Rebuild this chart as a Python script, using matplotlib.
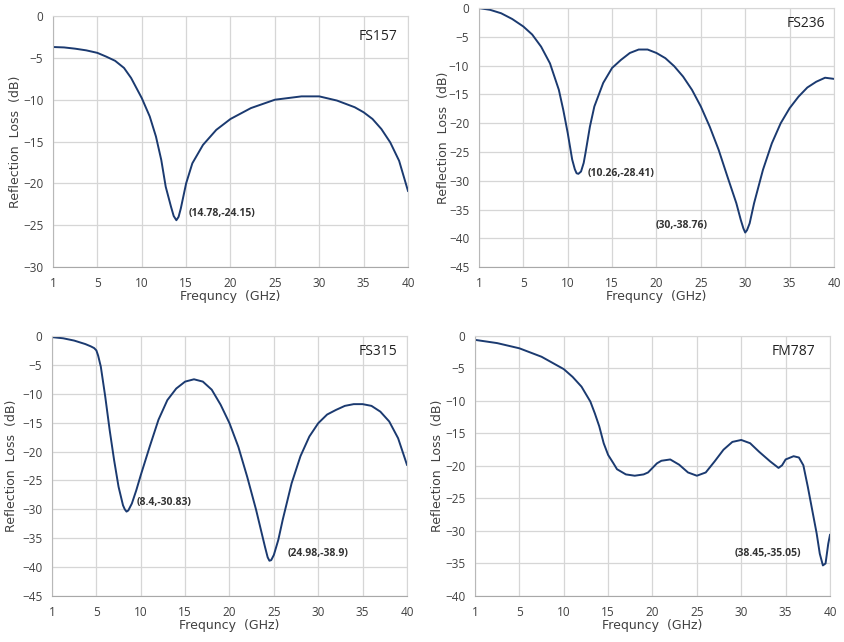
import numpy as np
import matplotlib
matplotlib.use("Agg")
import matplotlib.pyplot as plt

# frequency axis: 1..5 gets the same width as each 5 GHz step after it
freq_ticks = [1, 5, 10, 15, 20, 25, 30, 35, 40]

def fwd(f):
    f = np.asarray(f, dtype=float)
    return np.where(f < 5, (f - 1) / 4.0, 1 + (f - 5) / 5.0)

def inv(p):
    p = np.asarray(p, dtype=float)
    return np.where(p < 1, 1 + 4.0 * p, 5 + 5.0 * (p - 1))

# FS157
f157 = [1, 2, 3, 4, 5, 6, 7, 8, 8.8, 10, 10.9, 11.6, 12.2, 12.7, 13.3, 13.6, 13.9, 14.15,
        14.4, 15, 15.7, 16.9, 18.4, 20, 22.3, 25, 28, 30, 32, 34, 35, 36, 37, 38, 39, 40]
rl157 = [-3.7, -3.75, -3.9, -4.1, -4.4, -4.85, -5.35, -6.2, -7.4, -9.8, -12.0, -14.4, -17.2,
         -20.4, -22.8, -23.9, -24.4, -24.0, -23.0, -20.0, -17.6, -15.4, -13.6, -12.3, -11.0,
         -10.0, -9.6, -9.6, -10.1, -10.9, -11.5, -12.3, -13.5, -15.1, -17.3, -20.9]

# FS236
f236 = [1, 2, 3, 4, 5, 6, 7, 8, 9, 9.5, 10, 10.5, 10.8, 11, 11.2, 11.5, 11.8, 12, 12.5, 13,
        14, 15, 16, 17, 18, 19, 20, 21, 22, 23, 24, 25, 26, 27, 28, 29, 29.5, 29.8, 30, 30.2,
        30.5, 31, 32, 33, 34, 35, 36, 37, 38, 39, 40]
rl236 = [0.0, -0.3, -0.9, -1.9, -3.2, -4.6, -6.7, -9.6, -14.2, -17.7, -21.7, -26.3, -28.0,
         -28.7, -28.8, -28.4, -26.9, -25.2, -20.6, -17.1, -13.0, -10.4, -9.0, -7.8, -7.2, -7.2,
         -7.8, -8.7, -10.1, -11.9, -14.2, -17.1, -20.6, -24.6, -29.3, -33.9, -36.8, -38.3,
         -39.0, -38.6, -37.4, -33.9, -28.1, -23.5, -20.0, -17.4, -15.4, -13.8, -12.8, -12.1,
         -12.3]

# FS315
f315 = [1, 2, 3, 4, 4.5, 4.8, 5, 5.2, 5.5, 6, 6.5, 7, 7.5, 8, 8.2, 8.4, 8.6, 9, 9.5, 10, 11,
        12, 13, 14, 15, 16, 17, 18, 19, 20, 21, 22, 23, 24, 24.3, 24.5, 24.7, 25, 25.5, 26,
        27, 28, 29, 30, 31, 32, 33, 34, 35, 36, 37, 38, 39, 40]
rl315 = [-0.2, -0.4, -0.8, -1.4, -1.8, -2.1, -2.5, -3.4, -5.3, -10.5, -16.3, -21.5, -26.1,
         -29.3, -30.0, -30.4, -30.2, -29.0, -26.7, -24.1, -19.2, -14.5, -11.1, -9.1, -7.9,
         -7.5, -7.9, -9.3, -11.9, -15.1, -19.2, -24.4, -30.1, -36.5, -38.3, -38.9, -38.8,
         -37.9, -35.3, -31.8, -25.5, -20.8, -17.4, -15.1, -13.6, -12.8, -12.1, -11.8, -11.8,
         -12.1, -13.1, -14.8, -17.7, -22.3]

# FM787
f787 = [1, 3, 5, 7.5, 10, 11, 12, 13, 13.5, 14, 14.5, 15, 15.6, 16, 17, 18, 19, 19.5, 20,
        20.5, 21, 22, 23, 24, 25, 26, 27, 28, 29, 30, 31, 32, 33.26, 34.2, 34.6, 35, 35.9,
        36.5, 37, 37.5, 38, 38.5, 38.85, 39.2, 39.5, 39.8, 40]
rl787 = [-0.6, -1.1, -1.9, -3.2, -5.1, -6.3, -7.8, -10.1, -11.9, -13.9, -16.5, -18.3, -19.6,
         -20.5, -21.3, -21.5, -21.3, -21.0, -20.3, -19.6, -19.2, -19.0, -19.8, -21.0, -21.5,
         -21.0, -19.3, -17.5, -16.3, -16.0, -16.5, -17.8, -19.3, -20.3, -19.9, -19.0, -18.5,
         -18.7, -19.9, -23.2, -26.8, -30.4, -33.5, -35.3, -35.0, -32.0, -30.6]

panels = [
    dict(name="FS157", f=f157, rl=rl157, ymin=-30,
         rect=[0.0628, 0.584, 0.4206, 0.391], name_xy=(0.97, 0.92),
         notes=[("(14.78,-24.15)", 15.3, -23.6)], ylab=-0.107, xlab=-0.118),
    dict(name="FS236", f=f236, rl=rl236, ymin=-45,
         rect=[0.5675, 0.584, 0.4206, 0.4034], name_xy=(0.976, 0.94),
         notes=[("(10.26,-28.41)", 12.2, -28.7), ("(30,-38.76)", 19.9, -37.7)],
         ylab=-0.101, xlab=-0.113),
    dict(name="FS315", f=f315, rl=rl315, ymin=-45,
         rect=[0.0616, 0.0717, 0.4206, 0.405], name_xy=(0.972, 0.94),
         notes=[("(8.4,-30.83)", 9.5, -28.9), ("(24.98,-38.9)", 26.6, -37.6)],
         ylab=-0.113, xlab=-0.113),
    dict(name="FM787", f=f787, rl=rl787, ymin=-40,
         rect=[0.5628, 0.0717, 0.4206, 0.405], name_xy=(0.96, 0.94),
         notes=[("(38.45,-35.05)", 29.3, -33.5)], ylab=-0.107, xlab=-0.113),
]

narrow = ["Liberation Sans Narrow", "DejaVu Sans"]
fig = plt.figure(figsize=(8.44, 6.42), dpi=100)

for p in panels:
    ax = fig.add_axes(p["rect"])
    ax.set_xscale("function", functions=(fwd, inv))
    ax.plot(p["f"], p["rl"], color="#1b3a70", lw=1.4)
    ax.set_xlim(1, 40)
    ax.set_ylim(p["ymin"], 0)
    ax.set_xticks(freq_ticks)
    ax.set_xticklabels([str(t) for t in freq_ticks])
    ax.set_yticks(np.arange(p["ymin"], 1, 5))
    ax.xaxis.set_minor_locator(matplotlib.ticker.NullLocator())
    ax.grid(True, color="#d6d6d6", lw=0.9)
    ax.set_axisbelow(True)
    for s in ["top", "right"]:
        ax.spines[s].set_color("#d6d6d6")
    ax.spines["left"].set_color("#b8b8b8")
    ax.spines["bottom"].set_color("#a8a8a8")
    ax.tick_params(length=0, pad=7, labelsize=8.5, labelcolor="#404040")
    for lab in ax.get_xticklabels() + ax.get_yticklabels():
        lab.set_family(["Open Sans", "DejaVu Sans"])
    ax.set_ylabel("Reflection  Loss  (dB)", family=narrow, fontsize=9, color="#404040")
    ax.set_xlabel("Frequncy  (GHz)", family=narrow, fontsize=9, color="#404040")
    ax.yaxis.set_label_coords(p["ylab"], 0.5)
    ax.yaxis.label.set_va("center")
    ax.xaxis.set_label_coords(0.5, p["xlab"])
    ax.xaxis.label.set_va("center")
    ax.text(p["name_xy"][0], p["name_xy"][1], p["name"], transform=ax.transAxes,
            ha="right", va="center", fontsize=10, color="#222222",
            family=["Open Sans", "DejaVu Sans"])
    for txt, x, y in p["notes"]:
        ax.text(x, y, txt, ha="left", va="center", fontsize=7.5, fontweight="bold",
                color="#333333", family=["Open Sans", "DejaVu Sans"])

fig.savefig("out.png", dpi=100)
